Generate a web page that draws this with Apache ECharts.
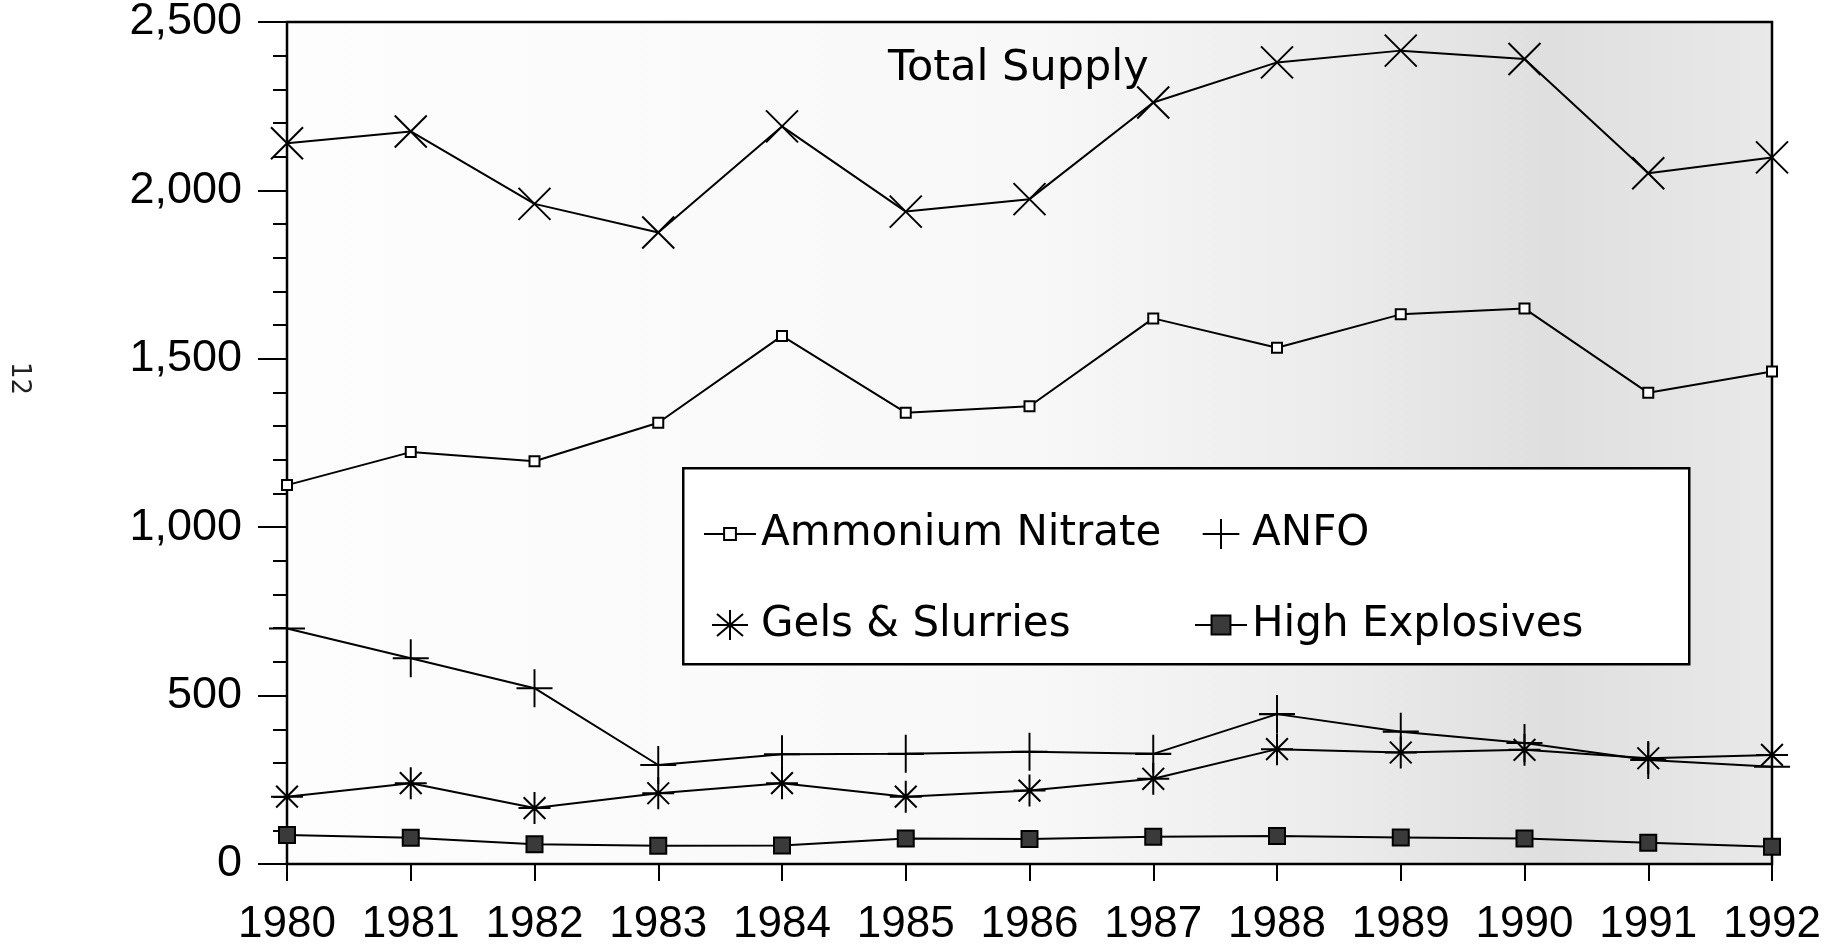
<!DOCTYPE html>
<html>
<head>
<meta charset="utf-8">
<script src="https://cdn.jsdelivr.net/npm/echarts@6/dist/echarts.min.js"></script>
<style>
html,body{margin:0;padding:0;background:#fff;}
#chart{width:1838px;height:946px;}
</style>
</head>
<body>
<div id="chart"></div>
<script>
const years = ['1980','1981','1982','1983','1984','1985','1986','1987','1988','1989','1990','1991','1992'];
const totalSupply = [2140, 2175, 1960, 1875, 2190, 1937, 1974, 2261, 2380, 2415, 2390, 2051, 2098];
const ammoniumNitrate = [1125, 1223, 1196, 1310, 1568, 1340, 1359, 1620, 1533, 1632, 1649, 1399, 1462];
const anfo = [699, 611, 522, 294, 326, 327, 333, 327, 445, 393, 359, 309, 289];
const gelsSlurries = [200, 240, 166, 210, 240, 200, 218, 253, 341, 331, 339, 314, 324];
const highExplosives = [86, 78, 59, 54, 55, 76, 74, 81, 83, 79, 76, 63, 51];

const X_PATH = 'path://M0,0L10,10M10,0L0,10';
const PLUS_PATH = 'path://M5,0L5,10M0,5L10,5';
const STAR_PATH = 'path://M5,0L5,10M0,5L10,5M1.6,1.6L8.4,8.4M8.4,1.6L1.6,8.4';

const chart = echarts.init(document.getElementById('chart'), null, {renderer:'canvas'});
const lineStyle = {color:'#000', width:2};
const strokeOnly = {color:'transparent', borderColor:'#000', borderWidth:2};

const option = {
  animation:false,
  backgroundColor:'#fff',
  title:{
    text:'Total Supply', left:888, top:47, padding:0,
    textStyle:{fontFamily:'DejaVu Sans', fontSize:43, fontWeight:'normal', color:'#000'}
  },
  grid:{
    left:287, right:66, top:22, bottom:82, outerBoundsMode:'none', containLabel:false,
    show:true, borderColor:'#000', borderWidth:2.5,
    backgroundColor:{type:'linear', x:0, y:0, x2:1, y2:0, colorStops:[
      {offset:0, color:'#fdfdfd'},
      {offset:0.5, color:'#f8f8f8'},
      {offset:0.7, color:'#ececec'},
      {offset:0.85, color:'#dfdfdf'},
      {offset:1, color:'#e9e9e9'}
    ]}
  },
  xAxis:{
    type:'category', data:years, boundaryGap:false,
    axisLine:{show:true, lineStyle:{color:'#000', width:2}},
    axisTick:{show:true, inside:false, length:17, interval:0, lineStyle:{color:'#000', width:2}},
    axisLabel:{margin:39, interval:0, hideOverlap:false, color:'#000', fontFamily:'Liberation Sans', fontSize:44},
    splitLine:{show:false}
  },
  yAxis:{
    type:'value', min:0, max:2500, interval:500,
    axisLine:{show:true, lineStyle:{color:'#000', width:2}},
    axisTick:{show:true, inside:false, length:29, lineStyle:{color:'#000', width:2}},
    minorTick:{show:true, splitNumber:5, length:14, lineStyle:{color:'#000', width:2}},
    axisLabel:{margin:45, color:'#000', fontFamily:'Liberation Sans', fontSize:45,
      formatter:v => String(v).replace(/\B(?=(\d{3})+(?!\d))/g, ',')},
    splitLine:{show:false}, minorSplitLine:{show:false}
  },
  legend:[
    {
      orient:'vertical', left:703, top:513, padding:0, itemGap:49, z:6,
      itemWidth:52, itemHeight:30, selectedMode:false,
      textStyle:{fontFamily:'DejaVu Sans', fontSize:42, color:'#000'},
      data:[
        {name:'Ammonium Nitrate', icon:'path://M0,15L17,15M27,15L44,15M17,10L27,10L27,20L17,20Z',
          itemStyle:{color:'#fff', borderColor:'#000', borderWidth:2}},
        {name:'Gels & Slurries', icon:'path://M4,15L40,15M22,0L22,30M9,4L35,26M35,4L9,26',
          itemStyle:{color:'transparent', borderColor:'#000', borderWidth:2}}
      ]
    },
    {
      orient:'vertical', left:1194, top:513, padding:0, itemGap:49, z:6,
      itemWidth:52, itemHeight:30, selectedMode:false,
      textStyle:{fontFamily:'DejaVu Sans', fontSize:42, color:'#000'},
      data:[
        {name:'ANFO', icon:'path://M0,18L44,18M22,0L22,36',
          itemStyle:{color:'transparent', borderColor:'#000', borderWidth:2}},
        {name:'High Explosives', icon:'path://M0,15L14,15M30,15L44,15M14,7L30,7L30,23L14,23Z',
          itemStyle:{color:'#3a3a3a', borderColor:'#000', borderWidth:2}}
      ]
    }
  ],
  graphic:[
    {type:'rect', left:682, top:467, z:3, silent:true,
      shape:{width:1006, height:196},
      style:{fill:'#fff', stroke:'#000', lineWidth:2.5}},
    {type:'text', left:6, top:362, rotation:-Math.PI/2, z:3, silent:true,
      style:{text:'12', fontFamily:'DejaVu Sans', fontSize:26, fill:'#222'}}
  ],
  series:[
    {name:'Total Supply', type:'line', data:totalSupply, symbol:X_PATH, symbolSize:32,
      showAllSymbol:true, lineStyle:lineStyle, itemStyle:strokeOnly, z:2},
    {name:'Ammonium Nitrate', type:'line', data:ammoniumNitrate, symbol:'rect', symbolSize:10,
      showAllSymbol:true, lineStyle:lineStyle, itemStyle:{color:'#fff', borderColor:'#000', borderWidth:2}, z:2},
    {name:'ANFO', type:'line', data:anfo, symbol:PLUS_PATH, symbolSize:[36,38],
      showAllSymbol:true, lineStyle:lineStyle, itemStyle:strokeOnly, z:2},
    {name:'Gels & Slurries', type:'line', data:gelsSlurries, symbol:STAR_PATH, symbolSize:32,
      showAllSymbol:true, lineStyle:lineStyle, itemStyle:strokeOnly, z:2},
    {name:'High Explosives', type:'line', data:highExplosives, symbol:'rect', symbolSize:16,
      showAllSymbol:true, lineStyle:lineStyle, itemStyle:{color:'#3a3a3a', borderColor:'#000', borderWidth:2}, z:2}
  ]
};
chart.setOption(option);
</script>
</body>
</html>
